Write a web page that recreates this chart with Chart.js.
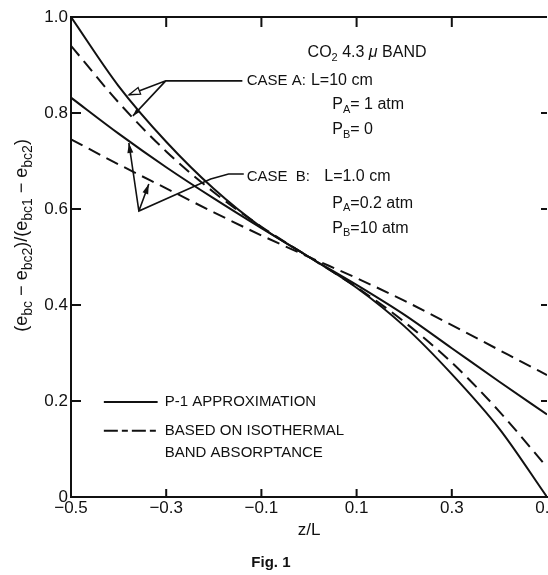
<!DOCTYPE html>
<html><head><meta charset="utf-8">
<script src="https://cdn.jsdelivr.net/npm/chart.js@4.4.1/dist/chart.umd.min.js"></script>
<style>html,body{margin:0;padding:0;background:#fff;}#wrap{width:548px;height:575px;position:relative;}</style>
</head><body><div id="wrap"><canvas id="c" width="548" height="575"></canvas></div>
<script>
// ---- data ----
const zValues   = [-0.5, -0.4, -0.3, -0.2, -0.1, 0, 0.1, 0.2, 0.3, 0.4, 0.5];
const caseA_P1  = [1.0, 0.856, 0.740, 0.642, 0.562, 0.5, 0.436, 0.356, 0.256, 0.142, 0.0];
const caseA_Iso = [0.94, 0.822, 0.720, 0.635, 0.563, 0.5, 0.437, 0.365, 0.280, 0.178, 0.062];
const caseB_P1  = [0.832, 0.757, 0.687, 0.622, 0.560, 0.5, 0.442, 0.380, 0.310, 0.240, 0.172];
const caseB_Iso = [0.745, 0.693, 0.643, 0.593, 0.545, 0.5, 0.456, 0.409, 0.358, 0.306, 0.254];
const xTicks = [-0.5, -0.3, -0.1, 0.1, 0.3, 0.5];
const yTicks = [0, 0.2, 0.4, 0.6, 0.8, 1.0];
const minorXTicks = [-0.3, -0.1, 0.1, 0.3];
const minorYTicks = [0.2, 0.4, 0.6, 0.8];

const INK = '#111';
const FONT = '"Liberation Sans", Arial, sans-serif';

function pts(arr){ return zValues.map((z,i)=>({x:z, y:arr[i]})); }
function fmtX(v){ const s = Math.abs(v).toFixed(1); return v < 0 ? '\u2212' + s : s; }
function fmtY(v){ return v === 0 ? '0' : v.toFixed(1); }

function richText(ctx, x, y, parts, size, subF){
  subF = subF || 0.68;
  let cx = x;
  for (const p of parts){
    if (p.sub){
      ctx.font = Math.round(size*subF) + 'px ' + FONT;
      ctx.fillText(p.t, cx, y + size*0.3);
    } else {
      ctx.font = (p.italic ? 'italic ' : '') + size + 'px ' + FONT;
      ctx.fillText(p.t, cx, y);
    }
    cx += ctx.measureText(p.t).width;
  }
  return cx - x;
}
function richWidth(ctx, parts, size, subF){
  subF = subF || 0.68;
  let w = 0;
  for (const p of parts){
    ctx.font = p.sub ? Math.round(size*subF) + 'px ' + FONT : (p.italic ? 'italic ' : '') + size + 'px ' + FONT;
    w += ctx.measureText(p.t).width;
  }
  return w;
}

const decor = {
  id: 'decor',
  afterDraw(chart){
    const ctx = chart.ctx, xs = chart.scales.x, ys = chart.scales.y, a = chart.chartArea;
    const X = v => xs.getPixelForValue(v), Y = v => ys.getPixelForValue(v);
    ctx.save();
    ctx.strokeStyle = INK; ctx.fillStyle = INK; ctx.lineWidth = 2; ctx.setLineDash([]);
    // top frame
    ctx.beginPath(); ctx.moveTo(a.left, a.top); ctx.lineTo(a.right, a.top); ctx.stroke();
    // inward ticks
    ctx.beginPath();
    for (const v of minorXTicks){
      ctx.moveTo(X(v), a.bottom); ctx.lineTo(X(v), a.bottom - 8);
      ctx.moveTo(X(v), a.top); ctx.lineTo(X(v), a.top + 10);
    }
    for (const v of minorYTicks){
      ctx.moveTo(a.left, Y(v)); ctx.lineTo(a.left + 10, Y(v));
      ctx.moveTo(a.right, Y(v)); ctx.lineTo(a.right - 6, Y(v));
    }
    ctx.stroke();

    // y-axis title with subscripts
    const yParts = [
      {t:'(e'},{t:'bc',sub:true},{t:' \u2212 e'},{t:'bc2',sub:true},{t:')/(e'},{t:'bc1',sub:true},{t:' \u2212 e'},{t:'bc2',sub:true},{t:')'}
    ];
    ctx.save();
    ctx.translate(27, Y(0.545));
    ctx.rotate(-Math.PI/2);
    ctx.textBaseline = 'alphabetic'; ctx.textAlign = 'left';
    const yw = richWidth(ctx, yParts, 18, 0.75);
    richText(ctx, -yw/2, 0, yParts, 18, 0.75);
    ctx.restore();

    // annotations
    ctx.textBaseline = 'middle'; ctx.textAlign = 'left';
    const S = 16;
    richText(ctx, X(-0.003), Y(0.925), [{t:'CO'},{t:'2',sub:true},{t:' 4.3 '},{t:'\u03bc',italic:true},{t:' BAND'}], S);
    richText(ctx, X(-0.131), Y(0.867), [{t:'CASE A:'}], 15);
    richText(ctx, X(0.004), Y(0.867), [{t:'L=10 cm'}], S);
    richText(ctx, X(0.049), Y(0.817), [{t:'P'},{t:'A',sub:true},{t:'= 1 atm'}], S);
    richText(ctx, X(0.049), Y(0.765), [{t:'P'},{t:'B',sub:true},{t:'= 0'}], S);
    richText(ctx, X(-0.131), Y(0.667), [{t:'CASE  B:'}], 15);
    richText(ctx, X(0.032), Y(0.667), [{t:'L=1.0 cm'}], S);
    richText(ctx, X(0.049), Y(0.612), [{t:'P'},{t:'A',sub:true},{t:'=0.2 atm'}], S);
    richText(ctx, X(0.049), Y(0.560), [{t:'P'},{t:'B',sub:true},{t:'=10 atm'}], S);

    // leader lines
    ctx.lineWidth = 1.6;
    ctx.beginPath();
    ctx.moveTo(X(-0.140), Y(0.867)); ctx.lineTo(X(-0.301), Y(0.867));
    ctx.lineTo(X(-0.378), Y(0.838));
    ctx.moveTo(X(-0.301), Y(0.867)); ctx.lineTo(X(-0.370), Y(0.794));
    ctx.moveTo(X(-0.137), Y(0.673)); ctx.lineTo(X(-0.169), Y(0.673));
    ctx.lineTo(X(-0.2065), Y(0.6625)); ctx.lineTo(X(-0.3574), Y(0.5958));
    ctx.lineTo(X(-0.3784), Y(0.7375));
    ctx.moveTo(X(-0.3574), Y(0.5958)); ctx.lineTo(X(-0.3365), Y(0.6521));
    ctx.stroke();
    function arrow(fz, fv, tz, tv, len, wid, hollow){
      const x1 = X(fz), y1 = Y(fv), x2 = X(tz), y2 = Y(tv);
      const ang = Math.atan2(y2-y1, x2-x1);
      ctx.beginPath();
      ctx.moveTo(x2, y2);
      ctx.lineTo(x2 - len*Math.cos(ang) + wid*Math.sin(ang), y2 - len*Math.sin(ang) - wid*Math.cos(ang));
      ctx.lineTo(x2 - len*Math.cos(ang) - wid*Math.sin(ang), y2 - len*Math.sin(ang) + wid*Math.cos(ang));
      ctx.closePath();
      if (hollow){ ctx.fillStyle = '#fff'; ctx.fill(); ctx.lineWidth = 1.3; ctx.stroke(); ctx.fillStyle = INK; }
      else ctx.fill();
    }
    arrow(-0.301, 0.867, -0.378, 0.838, 11, 3.5, true);
    arrow(-0.301, 0.867, -0.370, 0.794, 8, 2.5, false);
    arrow(-0.3574, 0.5958, -0.3784, 0.7375, 10, 3, false);
    arrow(-0.3574, 0.5958, -0.3365, 0.6521, 10, 3, false);

    // legend
    ctx.lineWidth = 2;
    ctx.beginPath(); ctx.moveTo(X(-0.431), Y(0.198)); ctx.lineTo(X(-0.318), Y(0.198)); ctx.stroke();
    ctx.setLineDash([14, 4, 6, 4]);
    ctx.beginPath(); ctx.moveTo(X(-0.431), Y(0.138)); ctx.lineTo(X(-0.318), Y(0.138)); ctx.stroke();
    ctx.setLineDash([]);
    ctx.font = '15px ' + FONT; ctx.textBaseline = 'middle';
    ctx.fillText('P-1 APPROXIMATION', X(-0.303), Y(0.198));
    ctx.fillText('BASED ON ISOTHERMAL', X(-0.303), Y(0.138));
    ctx.fillText('BAND ABSORPTANCE', X(-0.303), Y(0.092));

    // figure caption
    ctx.font = 'bold 15px ' + FONT; ctx.textAlign = 'center';
    ctx.fillText('Fig. 1', X(-0.08), chart.height - 12);
    ctx.restore();
  }
};

const solidStyle = {borderColor: INK, borderWidth: 2, pointRadius: 0, fill: false, cubicInterpolationMode: 'monotone'};
const dashStyle  = Object.assign({}, solidStyle, {borderDash: [13, 7]});

new Chart(document.getElementById('c'), {
  type: 'line',
  data: { datasets: [
    Object.assign({label: 'Case A, P-1 approximation', data: pts(caseA_P1)}, solidStyle),
    Object.assign({label: 'Case A, isothermal band absorptance', data: pts(caseA_Iso)}, dashStyle),
    Object.assign({label: 'Case B, P-1 approximation', data: pts(caseB_P1)}, solidStyle),
    Object.assign({label: 'Case B, isothermal band absorptance', data: pts(caseB_Iso)}, dashStyle)
  ]},
  options: {
    responsive: false, animation: false, devicePixelRatio: 1,
    layout: {padding: {left: 0, right: 1, top: 17, bottom: 0}},
    plugins: {legend: {display: false}, tooltip: {enabled: false}},
    scales: {
      x: {
        type: 'linear', min: -0.5, max: 0.5,
        afterBuildTicks: s => { s.ticks = xTicks.map(v => ({value: v})); },
        afterFit: s => { s.height = 78; s.paddingLeft = 0; s.paddingRight = 0; },
        ticks: {callback: v => fmtX(v), color: INK, font: {family: FONT, size: 17}, padding: 1, maxRotation: 0, autoSkip: false},
        grid: {drawOnChartArea: false, drawTicks: false},
        border: {display: true, color: INK, width: 2},
        title: {display: true, text: 'z/L', color: INK, font: {family: FONT, size: 17}, padding: {top: 0, bottom: 34}}
      },
      y: {
        type: 'linear', min: 0, max: 1,
        afterBuildTicks: s => { s.ticks = yTicks.map(v => ({value: v})); },
        afterFit: s => { s.width = 71; s.paddingTop = 0; s.paddingBottom = 0; },
        ticks: {callback: v => fmtY(v), color: INK, font: {family: FONT, size: 17}, padding: 3, autoSkip: false},
        grid: {drawOnChartArea: false, drawTicks: false},
        border: {display: true, color: INK, width: 2}
      }
    }
  },
  plugins: [decor]
});
</script></body></html>
